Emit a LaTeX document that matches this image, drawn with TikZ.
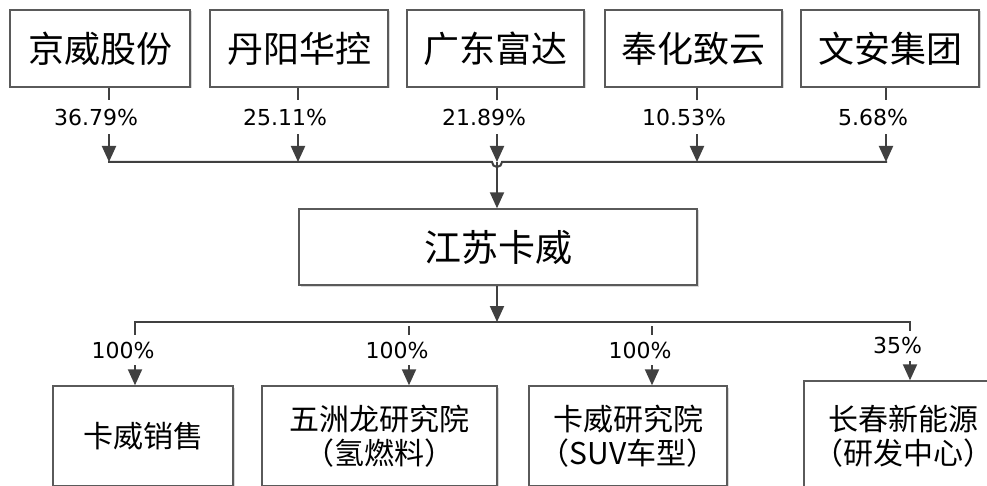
\documentclass[tikz,border=0pt]{standalone}
\usepackage{fontspec}
\setmainfont{DejaVu Sans}
\newfontfamily\cjk{Noto Sans CJK SC}
\usetikzlibrary{arrows.meta,shadows}

\begin{document}
\begin{tikzpicture}
		[x=1pt,y=-1pt,
		%Styles
		box/.style={draw=boxcolor,line width=1.4pt,fill=white,inner sep=0pt,align=center,
			drop shadow={shadow xshift=1.5pt,shadow yshift=-1.5pt,fill=black!30,opacity=.5}},
		owner/.style={box,minimum width=#1,minimum height=77pt,font=\cjk\fontsize{36}{40}\selectfont},
		holding/.style={box,minimum width=398pt,minimum height=76pt,font=\cjk\fontsize{37}{40}\selectfont},
		branch/.style={box,minimum width=#1,font=\cjk\fontsize{30}{34}\selectfont},
		link/.style={draw=linecolor,line width=2pt},
		bus/.style={link,line cap=rect},
		arr/.style={link,-{Triangle[length=16pt,width=14pt]}},
		pct/.style={fill=white,inner sep=0pt,minimum height=#1,font=\fontsize{22}{24}\selectfont,xshift=-13pt},
		pct/.default=34pt
		]
		
		%Colors
		\definecolor{linecolor}{HTML}{404040}	%connectors
		\definecolor{boxcolor}{HTML}{5A5A5A}	%box borders
		
		\clip (0,0) rectangle (987,486);
		
		%Shareholders
		\node[owner=180pt] (jw) at (100,48.5) {京威股份};
		\node[owner=178pt] (dy) at (299,48.5) {丹阳华控};
		\node[owner=177pt] (gd) at (495.5,48.5) {广东富达};
		\node[owner=177pt] (fh) at (693.5,48.5) {奉化致云};
		\node[owner=178pt] (wa) at (890,48.5) {文安集团};
		
		\node[holding] (js) at (498,247) {江苏卡威};
		
		%Subsidiaries
		\node[branch=180pt,minimum height=100pt] (xs) at (143,436) {卡威销售};
		\node[branch=235pt,minimum height=100pt] (wz) at (379.5,436) {五洲龙研究院\\（氢燃料）};
		\node[branch=198pt,minimum height=100pt] (ky) at (628,436) {卡威研究院\\（SUV车型）};
		\node[branch=198pt,minimum height=110pt] (cc) at (903,436) {长春新能源\\（研发中心）};
		
		%Upper bus
		\coordinate (j1) at ([xshift=9pt]jw.south |- 0,162);
		\coordinate (j2) at ([xshift=-1pt]dy.south |- 0,162);
		\coordinate (j3) at ([xshift=1.5pt]gd.south |- 0,162);
		\coordinate (j4) at ([xshift=3.5pt]fh.south |- 0,162);
		\coordinate (j5) at ([xshift=-4pt]wa.south |- 0,162);
		
		\draw[arr] (j1 |- jw.south) -- node[pct,pos=.4] {36.79\%} (j1);
		\draw[arr] (j2 |- dy.south) -- node[pct,pos=.4] {25.11\%} (j2);
		\draw[arr] (j3 |- gd.south) -- node[pct,pos=.4] {21.89\%} (j3);
		\draw[arr] (j4 |- fh.south) -- node[pct,pos=.4] {10.53\%} (j4);
		\draw[arr] (j5 |- wa.south) -- node[pct,pos=.4] {5.68\%} (j5);
		
		\draw[bus] (j1) -- ([xshift=-5pt]j3) arc[start angle=180,end angle=360,radius=5pt] -- (j5);
		\draw[arr] (j3) -- (j3 |- js.north);
		
		%Lower bus
		\coordinate (k1) at (135,322);
		\coordinate (k2) at (409,326);
		\coordinate (k3) at (652,326);
		\coordinate (k4) at (910,322);
		\coordinate (k0) at (j3 |- k1);
		
		\draw[arr] (k0 |- js.south) -- (k0);
		\draw[bus] (k1) -- (k4);
		
		\draw[arr] (k1) -- node[pct=30pt,pos=.445,xshift=1pt] {100\%} (k1 |- xs.north);
		\draw[arr] (k2) -- node[pct=30pt,pos=.41,xshift=1pt] {100\%} (k2 |- wz.north);
		\draw[arr] (k3) -- node[pct=30pt,pos=.41,xshift=1pt] {100\%} (k3 |- ky.north);
		\draw[arr] (k4) -- node[pct=30pt,pos=.41,xshift=0.5pt] {35\%} (k4 |- cc.north);
	\end{tikzpicture}
\end{document}
